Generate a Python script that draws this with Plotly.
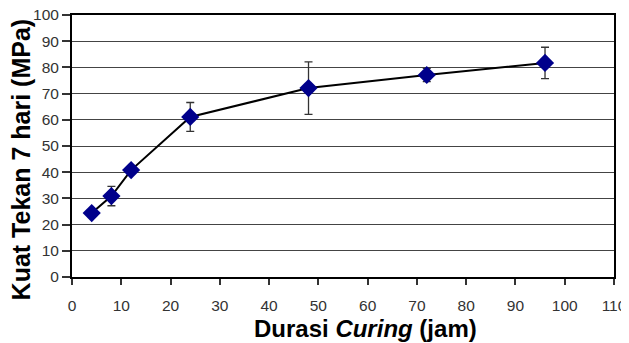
import plotly.graph_objects as go

durasi = [4, 8, 12, 24, 48, 72, 96]
kuat = [24.4, 30.9, 40.8, 61.1, 72.1, 77.1, 81.7]
err = [1.0, 3.7, 1.5, 5.5, 10.0, 2.5, 6.0]

x_ticks = list(range(0, 111, 10))
y_ticks = list(range(0, 101, 10))

fig = go.Figure()
fig.add_trace(go.Scatter(
    x=durasi, y=kuat, mode="lines+markers",
    line=dict(color="black", width=2),
    marker=dict(symbol="diamond", size=14, color="#00008B"),
    error_y=dict(type="data", array=err, visible=True, color="#333333", thickness=1.3, width=4),
    showlegend=False,
))

# page body has an 8px margin, so the figure is shifted by (8, 8)
fig.update_layout(
    width=621, height=335,
    margin=dict(l=64, r=15, t=7, b=66),
    paper_bgcolor="white", plot_bgcolor="white",
    font=dict(family="Liberation Sans", color="#333333", size=15.5),
    annotations=[
        dict(text="<b>Kuat Tekan 7 hari (MPa)</b>", textangle=-90, xref="paper", yref="paper",
             x=-0.095, y=0.447, xanchor="center", yanchor="middle", showarrow=False,
             font=dict(size=25, color="black")),
        dict(text="<b>Durasi <i>Curing</i> (jam)</b>", xref="paper", yref="paper",
             x=0.5406, y=-0.198, xanchor="center", yanchor="middle", showarrow=False,
             font=dict(size=24, color="black")),
    ],
)
fig.update_xaxes(
    range=[0, 110], tickvals=x_ticks, ticks="outside", ticklen=6, tickwidth=1.5, tickcolor="#333",
    showline=True, linecolor="black", linewidth=2, mirror=True, showgrid=False, zeroline=False,
    automargin=False, ticklabeloverflow="allow", ticklabelstandoff=7,
)
fig.update_yaxes(
    range=[0, 100], tickvals=y_ticks, ticks="outside", ticklen=8, tickwidth=1.5, tickcolor="#333",
    showline=True, linecolor="black", linewidth=2, mirror=True, automargin=False,
    ticklabeloverflow="allow", ticksuffix="\u00a0\u00a0",
    showgrid=True, gridcolor="#444444", gridwidth=1, zeroline=False,
)
fig.write_html("out.html")
